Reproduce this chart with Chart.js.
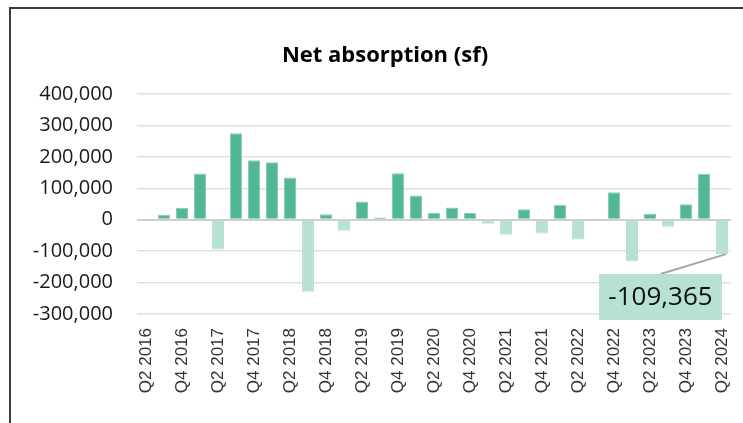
<!DOCTYPE html>
<html>
<head>
<meta charset="utf-8">
<script src="https://cdn.jsdelivr.net/npm/chart.js@4"></script>
<style>
  html, body { margin: 0; padding: 0; background: #fff; }
  #wrap { position: relative; width: 743px; height: 423px; overflow: hidden; }
  #frame { position: absolute; left: 9px; top: 7px; right: -4px; bottom: -4px;
           border-left: 2px solid #3c3c3c; border-top: 2px solid #3c3c3c; }
  canvas { position: absolute; left: 0; top: 0; }
</style>
</head>
<body>
<div id="wrap">
  <canvas id="chart" width="743" height="423"></canvas>
  <div id="frame"></div>
</div>
<script>
// Trimestres (Q2 2016 .. Q2 2024)
const quarters = [
  'Q2 2016', 'Q3 2016', 'Q4 2016', 'Q1 2017', 'Q2 2017', 'Q3 2017', 'Q4 2017', 'Q1 2018',
  'Q2 2018', 'Q3 2018', 'Q4 2018', 'Q1 2019', 'Q2 2019', 'Q3 2019', 'Q4 2019', 'Q1 2020',
  'Q2 2020', 'Q3 2020', 'Q4 2020', 'Q1 2021', 'Q2 2021', 'Q3 2021', 'Q4 2021', 'Q1 2022',
  'Q2 2022', 'Q3 2022', 'Q4 2022', 'Q1 2023', 'Q2 2023', 'Q3 2023', 'Q4 2023', 'Q1 2024',
  'Q2 2024'
];

// Absorção líquida (sf)
const netAbsorption = [
  0, 16000, 38000, 147000, -95000, 275000, 189000, 183000,
  134000, -229000, 17000, -35000, 58000, 7000, 148000, 77000,
  22000, 39000, 21000, -13000, -48000, 33000, -44000, 48000,
  -63000, 1500, 87000, -133000, 19000, -22000, 49000, 146000,
  -109365
];

const yTicks = [-300000, -200000, -100000, 0, 100000, 200000, 300000, 400000];

const posColor = '#52b795';
const negColor = '#b6e1d4';

// Título e rótulo do último trimestre
const extras = {
  id: 'extras',
  afterDraw(chart) {
    const ctx = chart.ctx;
    ctx.save();
    ctx.fillStyle = '#000';
    ctx.font = 'bold 22px "Open Sans"';
    ctx.textAlign = 'center';
    ctx.textBaseline = 'middle';
    ctx.fillText('Net absorption (sf)', 385, 56);

    const last = netAbsorption.length - 1;
    const bar = chart.getDatasetMeta(0).data[last];
    const bx = 599, by = 274, bw = 123, bh = 46;
    ctx.strokeStyle = '#a6a6a6';
    ctx.lineWidth = 2;
    ctx.beginPath();
    ctx.moveTo(bx + bw / 2, by);
    ctx.lineTo(bar.x + bar.width / 2 - 2, bar.y);
    ctx.stroke();
    ctx.fillStyle = negColor;
    ctx.fillRect(bx, by, bw, bh);
    ctx.fillStyle = '#111';
    ctx.font = '26px "Open Sans"';
    ctx.fillText(netAbsorption[last].toLocaleString('en-US'), bx + bw / 2, by + bh / 2 + 1);
    ctx.restore();
  }
};

new Chart(document.getElementById('chart').getContext('2d'), {
  type: 'bar',
  data: {
    labels: quarters,
    datasets: [{
      data: netAbsorption,
      backgroundColor: netAbsorption.map(v => v < 0 ? negColor : posColor),
      borderColor: netAbsorption.map(v => v < 0 ? negColor : '#86cdb4'),
      borderWidth: 1,
      borderSkipped: 'start',
      categoryPercentage: 1,
      barPercentage: 0.667
    }]
  },
  options: {
    responsive: false,
    animation: false,
    layout: { padding: { top: 94, right: 12, bottom: 0, left: 0 } },
    plugins: { legend: { display: false }, tooltip: { enabled: false } },
    scales: {
      x: {
        grid: { display: false, drawTicks: false },
        border: { display: false },
        afterFit: s => { s.height = 109; s.paddingRight = 0; s.paddingLeft = 0; },
        ticks: {
          autoSkip: false,
          minRotation: 90,
          maxRotation: 90,
          padding: 14,
          color: '#333',
          font: { family: '"Liberation Sans"', size: 17 },
          callback: (v, i) => i % 2 === 0 ? quarters[i] : ''
        }
      },
      y: {
        min: -300000,
        max: 400000,
        afterFit: s => { s.width = 137; },
        afterBuildTicks: s => { s.ticks = yTicks.map(v => ({ value: v })); },
        border: { display: false },
        grid: {
          drawTicks: false,
          color: ctx => ctx.tick && ctx.tick.value === 0 ? '#cfcfcf' : '#e0e0e0',
          lineWidth: ctx => ctx.tick && ctx.tick.value === 0 ? 2 : 1.5
        },
        ticks: {
          padding: 24,
          color: '#1a1a1a',
          font: { family: '"Open Sans"', size: 20 },
          callback: v => v.toLocaleString('en-US')
        }
      }
    }
  },
  plugins: [extras]
});
</script>
</body>
</html>
